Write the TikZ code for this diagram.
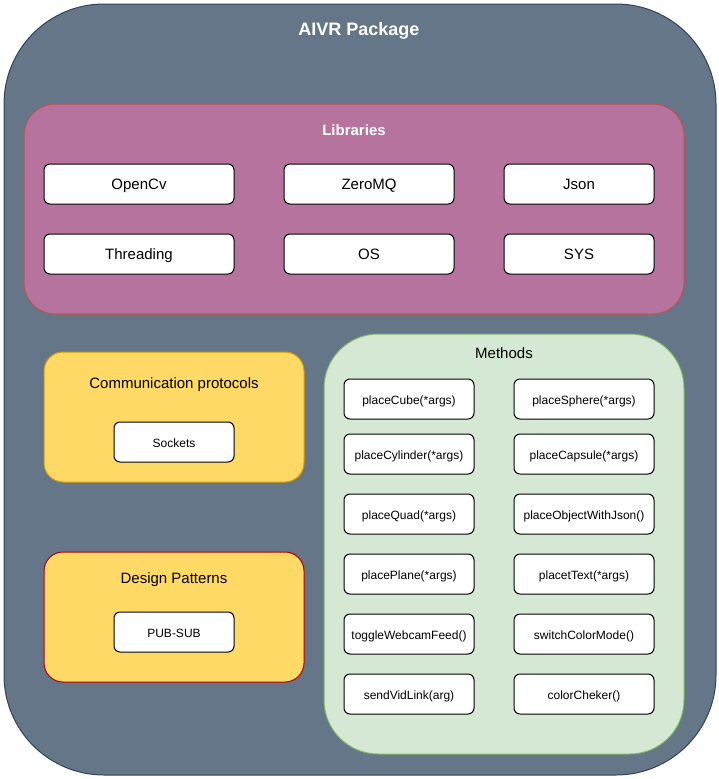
\documentclass[tikz,border=0pt]{standalone}
\usepackage{fontspec}
\setmainfont{Liberation Sans}
\definecolor{slatefill}{HTML}{647687}
\definecolor{slatedraw}{HTML}{314354}
\definecolor{plumfill}{HTML}{B5739D}
\definecolor{plumdraw}{HTML}{B85450}
\definecolor{goldfill}{HTML}{FFD966}
\definecolor{golddraw}{HTML}{D79B00}
\definecolor{reddraw}{HTML}{B20000}
\definecolor{mintfill}{HTML}{D5E8D4}
\definecolor{mintdraw}{HTML}{82B366}
\tikzstyle{every node}=[inner sep=0pt,outer sep=0pt,text height=1em,text depth=0pt]
\tikzstyle{group}=[draw,line width=1pt]
\tikzstyle{item}=[draw=black,fill=white,line width=1pt,rounded corners=6pt,minimum height=40pt,font=\fontsize{15}{17}\selectfont]
\tikzstyle{method}=[item,font=\fontsize{12}{14}\selectfont]
\tikzstyle{heading}=[font=\fontsize{15}{17}\selectfont]

\begin{document}
\begin{tikzpicture}[x=1pt,y=-1pt]
          \useasboundingbox (0,0) rectangle (719,779);
          \node[group,fill=slatefill,draw=slatedraw,rounded corners=100pt,minimum width=712pt,minimum height=771pt] (AIVR) at (360,389.5) {};
          \node[heading,text=white,font=\fontsize{18}{20}\selectfont\bfseries] (AIVRtitle) at (359,30) {AIVR Package};

          \node[group,fill=plumfill,draw=plumdraw,rounded corners=31pt,minimum width=660pt,minimum height=210pt] (Lib) at (354,209) {};
          \node[heading,text=white,font=\fontsize{15}{17}\selectfont\bfseries] (Libtitle) at (354,130) {Libraries};
          \node[item,minimum width=190pt] (L1) at (139,184) {OpenCv};
          \node[item,minimum width=170pt] (L2) at (369,184) {ZeroMQ};
          \node[item,minimum width=150pt] (L3) at (579,184) {Json};
          \node[item,minimum width=190pt] (L4) at (139,254) {Threading};
          \node[item,minimum width=170pt] (L5) at (369,254) {OS};
          \node[item,minimum width=150pt] (L6) at (579,254) {SYS};

          \node[group,fill=goldfill,draw=golddraw,rounded corners=19pt,minimum width=260pt,minimum height=130pt] (Com) at (174,417) {};
          \node[heading] (Comtitle) at (174,383) {Communication protocols};
          \node[method,minimum width=120pt] (C1) at (174,442) {Sockets};

          \node[group,fill=goldfill,draw=reddraw,rounded corners=19pt,minimum width=260pt,minimum height=130pt] (Des) at (174,617) {};
          \node[heading] (Destitle) at (174,578) {Design Patterns};
          \node[method,minimum width=120pt] (D1) at (174,632) {PUB-SUB};

          \node[group,fill=mintfill,draw=mintdraw,rounded corners=54pt,minimum width=360pt,minimum height=420pt] (Met) at (504,544) {};
          \node[heading] (Mettitle) at (504,353) {Methods};
          \node[method,minimum width=130pt] (M1) at (409,399) {placeCube(*args)};
          \node[method,minimum width=140pt] (M2) at (584,399) {placeSphere(*args)};
          \node[method,minimum width=130pt] (M3) at (409,454) {placeCylinder(*args)};
          \node[method,minimum width=140pt] (M4) at (584,454) {placeCapsule(*args)};
          \node[method,minimum width=130pt] (M5) at (409,514) {placeQuad(*args)};
          \node[method,minimum width=140pt] (M6) at (584,514) {placeObjectWithJson()};
          \node[method,minimum width=130pt] (M7) at (409,574) {placePlane(*args)};
          \node[method,minimum width=140pt] (M8) at (584,574) {placetText(*args)};
          \node[method,minimum width=130pt] (M9) at (409,634) {toggleWebcamFeed()};
          \node[method,minimum width=140pt] (M10) at (584,634) {switchColorMode()};
          \node[method,minimum width=130pt] (M11) at (409,694) {sendVidLink(arg)};
          \node[method,minimum width=140pt] (M12) at (584,694) {colorCheker()};
        \end{tikzpicture}
\end{document}
